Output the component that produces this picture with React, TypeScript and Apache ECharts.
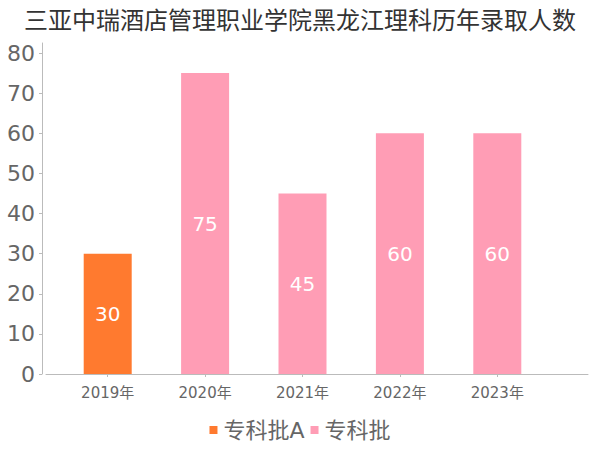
import React, { useEffect, useRef } from "react";
import * as echarts from "echarts";

const categories = ["2019年", "2020年", "2021年", "2022年", "2023年"];
const seriesA = [30, null, null, null, null];
const seriesB = [null, 75, 45, 60, 60];
const seriesNames = ["专科批A", "专科批"];
const titleText = "三亚中瑞酒店管理职业学院黑龙江理科历年录取人数";

const FONT = "'DejaVu Sans', 'Noto Sans CJK SC', sans-serif";

export default function App() {
  const ref = useRef<HTMLDivElement>(null);
  useEffect(() => {
    document.body.style.margin = "0";
    if (!ref.current) return;
    const chart = echarts.init(ref.current, undefined, { renderer: "svg" });
    chart.setOption({
      animation: false,
      textStyle: { fontFamily: FONT },
      title: {
        text: titleText,
        left: "center",
        top: 4,
        textStyle: { fontSize: 24, fontWeight: "normal", color: "#333", fontFamily: FONT },
      },
      legend: {
        bottom: 4,
        left: "center",
        itemWidth: 8,
        itemHeight: 8,
        itemGap: 6,
        icon: "rect",
        textStyle: { fontSize: 22, color: "#666", fontFamily: FONT, padding: [0, 0, 0, 1] },
        data: seriesNames,
      },
      grid: [
        { left: 59, right: 54, top: 53, bottom: 76 },
        { left: 46, right: 12, top: 43, bottom: 76 },
      ],
      xAxis: [
        {
          type: "category",
          gridIndex: 0,
          data: categories,
          offset: 4,
          axisLine: { show: false },
          axisTick: { show: true, alignWithLabel: true, length: 3, lineStyle: { color: "#bbb" } },
          axisLabel: { fontSize: 15, color: "#666", margin: 7, fontFamily: FONT },
        },
        {
          type: "category",
          gridIndex: 1,
          data: [""],
          offset: 4,
          axisLine: { show: true, lineStyle: { color: "#bbb" } },
          axisTick: { show: false },
          axisLabel: { show: false },
        },
      ],
      yAxis: [
        {
          type: "value",
          gridIndex: 0,
          min: 0,
          max: 80,
          interval: 10,
          offset: 17,
          axisLine: { show: false },
          axisTick: { show: true, length: 3, lineStyle: { color: "#bbb" } },
          splitLine: { show: false },
          axisLabel: { fontSize: 22, color: "#666", margin: 7, fontFamily: FONT },
        },
        {
          type: "value",
          gridIndex: 1,
          min: 0,
          max: 1,
          offset: 4,
          axisLine: { show: true, lineStyle: { color: "#bbb" } },
          axisTick: { show: false },
          axisLabel: { show: false },
          splitLine: { show: false },
        },
      ],
      series: [
        {
          name: seriesNames[0],
          type: "bar",
          stack: "total",
          barWidth: 48,
          data: seriesA,
          itemStyle: { color: "#ff7a2f" },
          label: { show: true, position: "inside", color: "#fff", fontSize: 20, fontFamily: FONT },
        },
        {
          name: seriesNames[1],
          type: "bar",
          stack: "total",
          barWidth: 48,
          data: seriesB,
          itemStyle: { color: "#ff9db5" },
          label: { show: true, position: "inside", color: "#fff", fontSize: 20, fontFamily: FONT },
        },
      ],
    });
    return () => chart.dispose();
  }, []);
  return <div ref={ref} style={{ width: 600, height: 450 }} />;
}
